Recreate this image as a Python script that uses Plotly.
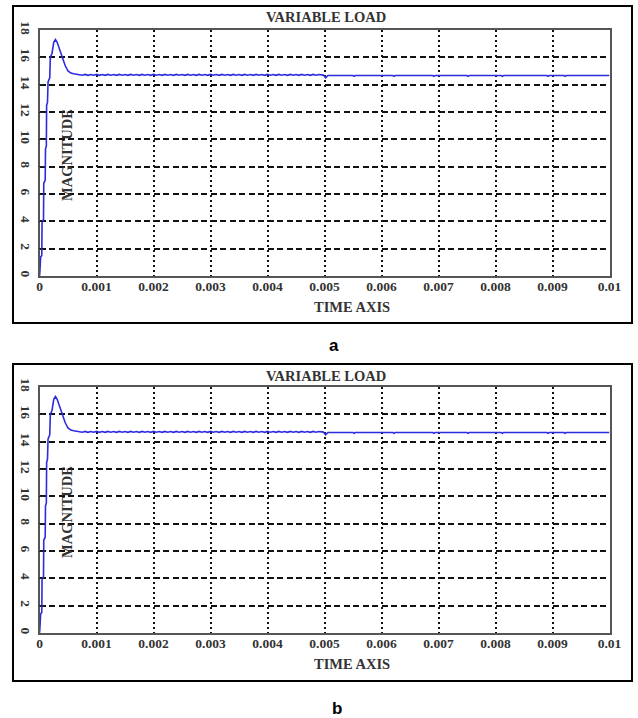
import plotly.graph_objects as go

W, H = 638, 718

# ---- data ----
t_rise = [0, 0.000005, 0.00002, 0.00004, 0.000045, 0.00007, 0.000075, 0.0001, 0.000105,
          0.00012, 0.000125, 0.00014, 0.00015, 0.00018, 0.00019, 0.00022, 0.00025, 0.00028,
          0.00031, 0.00035, 0.0004, 0.00045, 0.0005, 0.00055, 0.0006, 0.00065]
v_rise = [0, 0.2, 1.4, 1.5, 4.0, 4.1, 6.8, 7.0, 9.3, 9.5, 12.5, 12.7, 14.2, 14.5, 16.0,
          16.3, 17.1, 17.3, 17.1, 16.6, 16.0, 15.4, 15.0, 14.85, 14.8, 14.76]

ripple_start, ripple_step = 0.0007, 0.00005
v_ripple = [14.74, 14.69, 14.75, 14.68, 14.74, 14.69, 14.75, 14.68, 14.74, 14.68,
            14.75, 14.69, 14.74, 14.68, 14.75, 14.69, 14.74, 14.68, 14.75, 14.69,
            14.74, 14.68, 14.75, 14.69, 14.74, 14.68, 14.75, 14.69, 14.74, 14.68,
            14.75, 14.69, 14.74, 14.68, 14.75, 14.69, 14.74, 14.68, 14.75, 14.69,
            14.74, 14.68, 14.75, 14.69, 14.74, 14.68, 14.75, 14.69, 14.74, 14.68,
            14.75, 14.69, 14.74, 14.68, 14.75, 14.69, 14.74, 14.68, 14.75, 14.69,
            14.74, 14.68, 14.75, 14.69, 14.74, 14.68, 14.75, 14.69, 14.74, 14.68,
            14.75, 14.69, 14.74, 14.68, 14.75, 14.69, 14.74, 14.68, 14.75, 14.69,
            14.74, 14.68, 14.75, 14.69, 14.74, 14.71]

t_tail = [0.00498, 0.00502, 0.00506, 0.0055, 0.00552, 0.00554, 0.0062, 0.00622, 0.00624,
          0.0069, 0.00692, 0.00694, 0.0075, 0.00752, 0.00754, 0.0081, 0.00812, 0.00814,
          0.0089, 0.00892, 0.00894, 0.0092, 0.00922, 0.00924, 0.01]
v_tail = [14.7, 14.5, 14.67, 14.67, 14.61, 14.67, 14.67, 14.61, 14.67, 14.67, 14.61,
          14.67, 14.67, 14.61, 14.67, 14.67, 14.61, 14.67, 14.67, 14.61, 14.67, 14.67,
          14.61, 14.67, 14.67]

x_ticks = [0, 0.001, 0.002, 0.003, 0.004, 0.005, 0.006, 0.007, 0.008, 0.009, 0.01]
x_tick_labels = ["0", "0.001", "0.002", "0.003", "0.004", "0.005", "0.006", "0.007",
                 "0.008", "0.009", "0.01"]
y_ticks = [0, 2, 4, 6, 8, 10, 12, 14, 16, 18]
y_tick_labels = ["0", "2", "4", "6", "8", "10", "12", "14", "16", "18"]

panel_labels = ["a", "b"]
title_text = "VARIABLE LOAD"
xlabel_text = "TIME AXIS"
ylabel_text = "MAGNITUDE"

t_ripple = [ripple_start + i * ripple_step for i in range(len(v_ripple))]
t_all = t_rise + t_ripple + t_tail
v_all = v_rise + v_ripple + v_tail

# ---- layout helpers (pixel -> paper) ----
def px(x):
    return x / W

def py(y):
    return 1 - y / H

SERIF = "Liberation Serif, Times New Roman, serif"
TXT = "#333333"

fig = go.Figure()

panels = [
    dict(top=30, bottom=276, btop=6, bbot=323, label_y=345, label_x=334),
    dict(top=387, bottom=633, btop=364, bbot=681, label_y=708, label_x=337),
]

def note(text, x, y, size, family=SERIF, color=TXT, angle=0):
    fig.add_annotation(text=text, xref="paper", yref="paper", x=px(x), y=py(y),
                       xanchor="center", yanchor="middle", showarrow=False,
                       textangle=angle,
                       font=dict(family=family, size=size, color=color, weight="bold"))

for i, p in enumerate(panels):
    n = "" if i == 0 else str(i + 1)
    fig.add_trace(go.Scatter(x=t_all, y=v_all, mode="lines",
                             line=dict(color="#2b2be0", width=1.6),
                             xaxis="x" + n, yaxis="y" + n, showlegend=False,
                             hoverinfo="skip"))
    axis_common = dict(showgrid=True, gridcolor="#111111", gridwidth=1.5,
                       showline=True, linecolor="#555555", linewidth=1.5, mirror=True,
                       zeroline=False, automargin=False,
                       tickfont=dict(family=SERIF, size=13.5, color=TXT, weight="bold"))
    fig.update_layout(**{
        "xaxis" + n: dict(axis_common, domain=[px(39.5), px(609.5)], range=[0, 0.01],
                          tickvals=x_ticks, ticktext=x_tick_labels, griddash="2px,3px",
                          anchor="y" + n, ticks="", ticklabelstandoff=-3),
        "yaxis" + n: dict(axis_common, domain=[py(p["bottom"]), py(p["top"])],
                          range=[0, 18], tickvals=y_ticks, ticktext=y_tick_labels,
                          griddash="6px,3.5px", anchor="x" + n, tickangle=90,
                          ticks="inside", ticklen=5, tickcolor="#222222",
                          ticklabelstandoff=1),
    })
    # panel border
    fig.add_shape(type="rect", xref="paper", yref="paper",
                  x0=px(13), x1=px(632), y0=py(p["bbot"]), y1=py(p["btop"]),
                  line=dict(color="black", width=2))
    note(title_text, 325.5, p["btop"] + 11.5, 14.5)
    note(xlabel_text, 352, p["bottom"] + 31, 14.5)
    note(ylabel_text, 67, p["top"] + 125, 14.5, angle=-90)
    note(panel_labels[i], p["label_x"], p["label_y"], 17,
         family="Liberation Sans, Arial, sans-serif", color="black")

fig.update_layout(width=W, height=H, margin=dict(l=0, r=0, t=0, b=0),
                  paper_bgcolor="white", plot_bgcolor="white")

fig.write_html("out.html", config={"displayModeBar": False},
               post_script="document.body.style.margin='0px';"
                           "document.body.style.overflow='hidden';")
